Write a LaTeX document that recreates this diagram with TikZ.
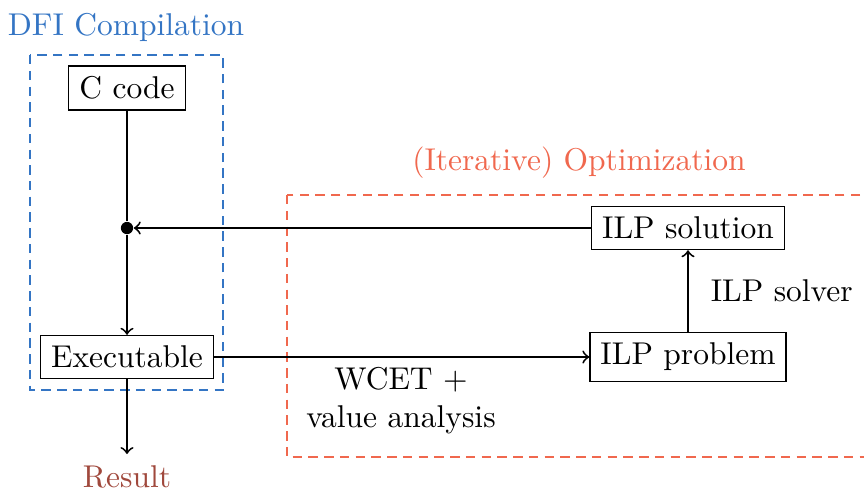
\documentclass[tikz,border=0pt]{standalone}
\definecolor{dfiblue}{RGB}{52,117,196}
\definecolor{optred}{RGB}{240,104,78}
\definecolor{resbrown}{RGB}{160,72,60}
\begin{document}
\begin{tikzpicture}[x=0.3175pt,y=-0.3175pt,
  box/.style={draw, thin, fill=white},
  conn/.style={semithick},
  frame/.style={semithick, dash pattern=on 3pt off 2pt},
  >=to]
\clip (0,0) rectangle (864,490);
\useasboundingbox (0,0) rectangle (864,490);
% frames
\draw[frame, dfiblue] (30,55) rectangle (223,390);
\draw[frame, optred] (287,195) rectangle (910,457);
\node[text=dfiblue] (t1) at (126,27) {DFI Compilation};
\node[text=optred] (t2) at (579,163) {(Iterative) Optimization};
% nodes
\node[box] (cc) at (127,88) {C code};
\node[box] (exe) at (127,357) {Executable};
\node[box] (sol) at (688,228) {ILP solution};
\node[box] (prob) at (688,357) {ILP problem};
\node[circle, fill, inner sep=0pt, minimum size=3.9pt] (j) at (127,228) {};
\node[text=resbrown, anchor=base] (res) at (127,487) {Result};
\node[align=center] (wcet) at (401,401) {WCET +\\value analysis};
% connectors
\draw[conn] (cc) -- (j);
\draw[conn,->] (j) -- (exe);
\draw[conn,->] (sol.west) -- (j);
\draw[conn,->] (exe.east) -- (exe.east -| prob.west);
\draw[conn,->] (prob) -- node[right, xshift=3.6pt] (solver) {ILP solver} (sol);
\draw[conn,->] (exe) -- (res);
\end{tikzpicture}
\end{document}
